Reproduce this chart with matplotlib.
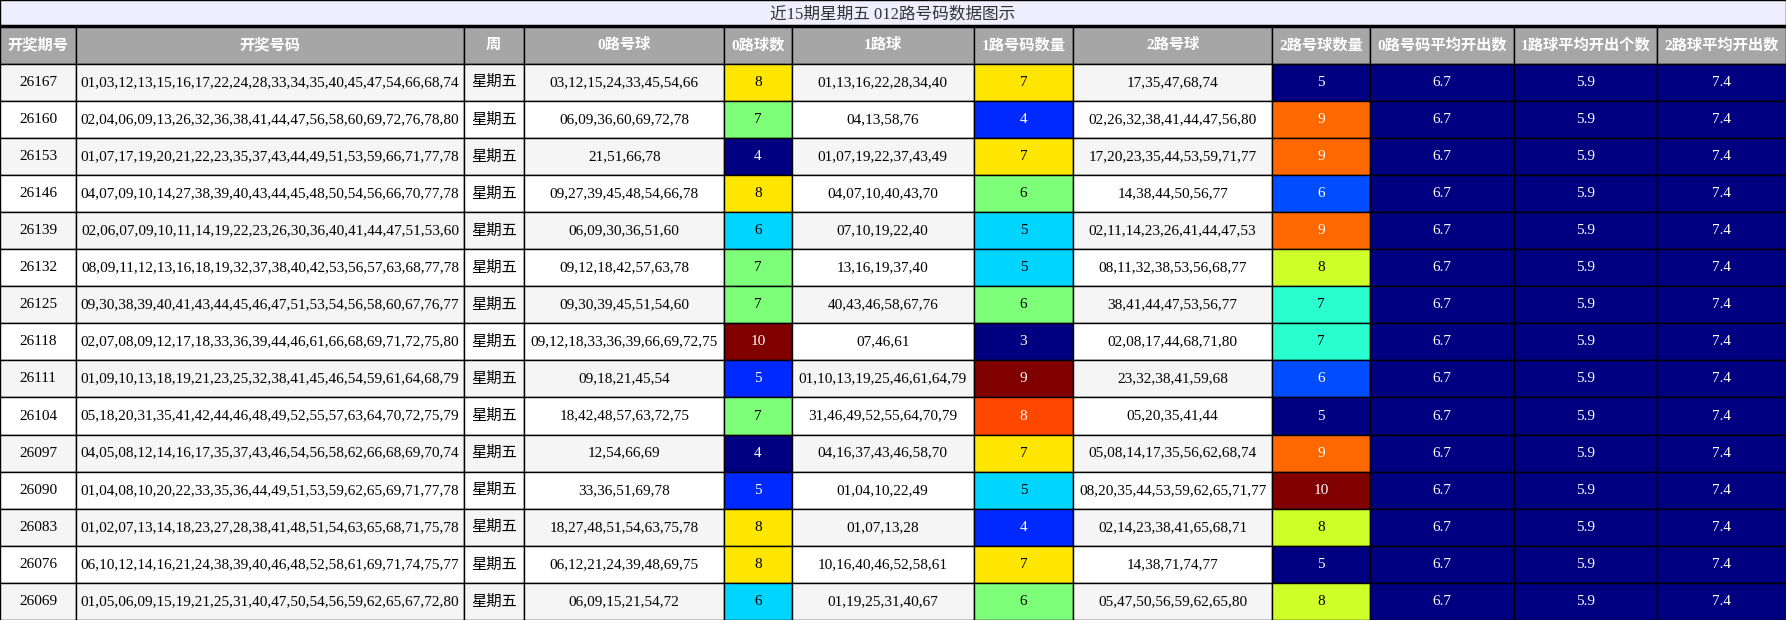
import matplotlib
matplotlib.use("Agg")
import matplotlib.pyplot as plt
from matplotlib.patches import Rectangle

plt.rcParams['font.family'] = ['Liberation Serif', 'Noto Sans CJK SC']

title = '近15期星期五 012路号码数据图示'
headers = ['开奖期号', '开奖号码', '周', '0路号球', '0路球数', '1路球', '1路号码数量',
           '2路号球', '2路号球数量', '0路号码平均开出数', '1路球平均开出个数', '2路球平均开出数']

issues = ['26167', '26160', '26153', '26146', '26139', '26132', '26125', '26118',
          '26111', '26104', '26097', '26090', '26083', '26076', '26069']
draws = [
    '01,03,12,13,15,16,17,22,24,28,33,34,35,40,45,47,54,66,68,74',
    '02,04,06,09,13,26,32,36,38,41,44,47,56,58,60,69,72,76,78,80',
    '01,07,17,19,20,21,22,23,35,37,43,44,49,51,53,59,66,71,77,78',
    '04,07,09,10,14,27,38,39,40,43,44,45,48,50,54,56,66,70,77,78',
    '02,06,07,09,10,11,14,19,22,23,26,30,36,40,41,44,47,51,53,60',
    '08,09,11,12,13,16,18,19,32,37,38,40,42,53,56,57,63,68,77,78',
    '09,30,38,39,40,41,43,44,45,46,47,51,53,54,56,58,60,67,76,77',
    '02,07,08,09,12,17,18,33,36,39,44,46,61,66,68,69,71,72,75,80',
    '01,09,10,13,18,19,21,23,25,32,38,41,45,46,54,59,61,64,68,79',
    '05,18,20,31,35,41,42,44,46,48,49,52,55,57,63,64,70,72,75,79',
    '04,05,08,12,14,16,17,35,37,43,46,54,56,58,62,66,68,69,70,74',
    '01,04,08,10,20,22,33,35,36,44,49,51,53,59,62,65,69,71,77,78',
    '01,02,07,13,14,18,23,27,28,38,41,48,51,54,63,65,68,71,75,78',
    '06,10,12,14,16,21,24,38,39,40,46,48,52,58,61,69,71,74,75,77',
    '01,05,06,09,15,19,21,25,31,40,47,50,54,56,59,62,65,67,72,80',
]
weekday = '星期五'
road0 = ['03,12,15,24,33,45,54,66', '06,09,36,60,69,72,78', '21,51,66,78',
         '09,27,39,45,48,54,66,78', '06,09,30,36,51,60', '09,12,18,42,57,63,78',
         '09,30,39,45,51,54,60', '09,12,18,33,36,39,66,69,72,75', '09,18,21,45,54',
         '18,42,48,57,63,72,75', '12,54,66,69', '33,36,51,69,78',
         '18,27,48,51,54,63,75,78', '06,12,21,24,39,48,69,75', '06,09,15,21,54,72']
road1 = ['01,13,16,22,28,34,40', '04,13,58,76', '01,07,19,22,37,43,49',
         '04,07,10,40,43,70', '07,10,19,22,40', '13,16,19,37,40', '40,43,46,58,67,76',
         '07,46,61', '01,10,13,19,25,46,61,64,79', '31,46,49,52,55,64,70,79',
         '04,16,37,43,46,58,70', '01,04,10,22,49', '01,07,13,28',
         '10,16,40,46,52,58,61', '01,19,25,31,40,67']
road2 = ['17,35,47,68,74', '02,26,32,38,41,44,47,56,80', '17,20,23,35,44,53,59,71,77',
         '14,38,44,50,56,77', '02,11,14,23,26,41,44,47,53', '08,11,32,38,53,56,68,77',
         '38,41,44,47,53,56,77', '02,08,17,44,68,71,80', '23,32,38,41,59,68',
         '05,20,35,41,44', '05,08,14,17,35,56,62,68,74', '08,20,35,44,53,59,62,65,71,77',
         '02,14,23,38,41,65,68,71', '14,38,71,74,77', '05,47,50,56,59,62,65,80']
cnt0 = [8, 7, 4, 8, 6, 7, 7, 10, 5, 7, 4, 5, 8, 8, 6]
cnt1 = [7, 4, 7, 6, 5, 5, 6, 3, 9, 8, 7, 5, 4, 7, 6]
cnt2 = [5, 9, 9, 6, 9, 8, 7, 7, 6, 5, 9, 10, 8, 5, 8]
avg0, avg1, avg2 = '6.7', '5.9', '7.4'

# column edges in reference pixels (image width 1568 units)
edges = [0, 67, 407, 460, 636, 695, 855, 942, 1117, 1203, 1329, 1455, 1568]
W, H = 1568, 545
title_h, head_top, head_bot = 23, 23, 56
row_h = (H - head_bot) / len(issues)

fig = plt.figure(figsize=(17.86, 6.2), dpi=100)
ax = fig.add_axes([0, 0, 1, 1])
ax.set_xlim(0, W)
ax.set_ylim(H, 0)
ax.axis('off')

cmap = plt.get_cmap('jet')
fs = 11


def cell(c, y0, h, face, text, color='black', weight='normal', size=fs):
    x0, x1 = edges[c], edges[c + 1]
    ax.add_patch(Rectangle((x0, y0), x1 - x0, h, facecolor=face,
                           edgecolor='black', linewidth=1))
    ax.text((x0 + x1) / 2, y0 + h / 2, text, ha='center', va='center',
            color=color, fontsize=size, fontweight=weight)


ax.add_patch(Rectangle((0, 0), W, title_h, facecolor='#eeeeff', edgecolor='black', linewidth=1))
ax.text(W / 2, title_h / 2 + 1, title, ha='center', va='center', fontsize=12, color='#333333')
ax.plot([0, W], [head_top, head_top], color='black', linewidth=2.5)

for c, htxt in enumerate(headers):
    cell(c, head_top, head_bot - head_top, '#a6a6a6', htxt, color='white', weight='bold')


def count_cell(c, y0, v, vals):
    lo, hi = min(vals), max(vals)
    t = (v - lo) / (hi - lo)
    txt = 'white' if (t < 0.3 or t > 0.75) else 'black'
    cell(c, y0, row_h, cmap(t), str(v), color=txt)


for i in range(len(issues)):
    y0 = head_bot + i * row_h
    bg = '#f5f5f5' if i % 2 == 0 else 'white'
    cell(0, y0, row_h, bg, issues[i])
    cell(1, y0, row_h, bg, draws[i])
    cell(2, y0, row_h, bg, weekday)
    cell(3, y0, row_h, bg, road0[i])
    count_cell(4, y0, cnt0[i], cnt0)
    cell(5, y0, row_h, bg, road1[i])
    count_cell(6, y0, cnt1[i], cnt1)
    cell(7, y0, row_h, bg, road2[i])
    count_cell(8, y0, cnt2[i], cnt2)
    for c, a in zip([9, 10, 11], [avg0, avg1, avg2]):
        cell(c, y0, row_h, '#000080', a, color='white')

fig.savefig('out.png', dpi=100)
